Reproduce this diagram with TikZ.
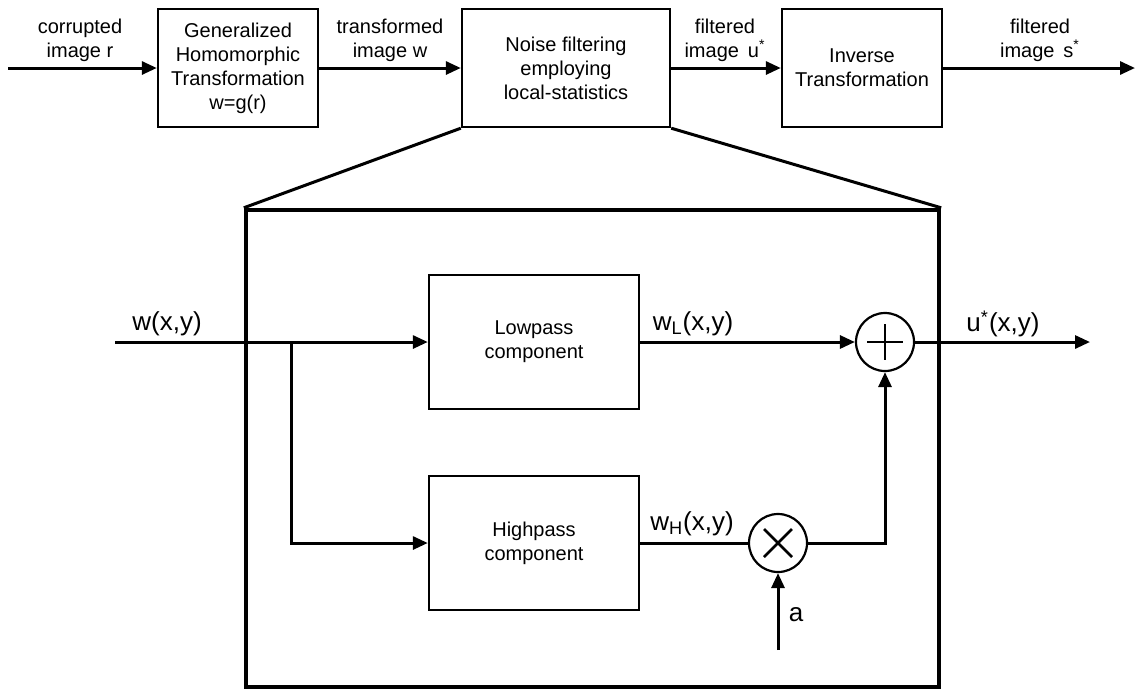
\documentclass[tikz,border=0pt]{standalone}
\usepackage{fontspec}
\setmainfont{Liberation Sans}
\usetikzlibrary{arrows.meta}
\usetikzlibrary{calc}
\usetikzlibrary{positioning}

\begin{document}
\begin{tikzpicture}[x=0.5pt, y=-0.5pt,
        every node/.style={font=\fontsize{10}{12}\selectfont, align=center},
        block/.style={draw, line width=1.2pt, inner sep=0pt},
        topblock/.style={block, minimum height=59pt},
        filterblock/.style={block, minimum width=105pt, minimum height=67pt},
        junction/.style={draw, circle, line width=1.1pt, minimum size=29pt, inner sep=0pt},
        siglabel/.style={font=\fontsize{13}{15}\selectfont, inner sep=0pt},
        sig/.style={line width=1.5pt},
        arr/.style={sig, -{Triangle[length=7.5pt, width=6.5pt]}}]
    \useasboundingbox (0, 0) rectangle (1138, 692);

    % top chain
    \node[topblock, minimum width=80pt] (ght) at (238, 68) {Generalized\\Homomorphic\\Transformation\\w=g(r)};
    \node[topblock, minimum width=104pt] (noise) at (566, 68) {Noise filtering\\employing\\local-statistics};
    \node[topblock, minimum width=80pt] (inv) at (862, 68) {Inverse\\Transformation};
    \coordinate (rin) at (8, 68);
    \coordinate (sout) at (1135, 68);

    \draw[arr] (rin) -- (ght.west);
    \draw[arr] (ght.east) -- (noise.west);
    \draw[arr] (noise.east) -- (inv.west);
    \draw[arr] (inv.east) -- (sout);

    \node (lr) at (80, 40) {corrupted\\image r};
    \node (lw) at (390, 40) {transformed\\image w};
    \node (lu) at (725, 40) {filtered\\image\, u\textsuperscript{*}};
    \node (ls) at (1040, 40) {filtered\\image\, s\textsuperscript{*}};

    % zoomed view of the noise filter
    \node[draw, line width=2.2pt, minimum width=346.5pt, minimum height=238.5pt] (detail) at (592.5, 448.5) {};
    \draw[line width=1.5pt] (noise.south west) -- (detail.north west);
    \draw[line width=1.5pt] (noise.south east) -- (detail.north east);

    \node[filterblock] (low) at (534, 342) {Lowpass\\component};
    \node[filterblock] (high) at (534, 543) {Highpass\\component};
    \node[junction] (sum) at (885, 342) {};
    \node[junction] (mult) at (778, 543) {};
    \draw[line width=1.1pt] ($(sum)+(-18, 0)$) -- ($(sum)+(18, 0)$);
    \draw[line width=1.1pt] ($(sum)+(0, -18)$) -- ($(sum)+(0, 18)$);
    \draw[line width=1.3pt] ($(mult)+(-14, -14)$) -- ($(mult)+(14, 14)$);
    \draw[line width=1.3pt] ($(mult)+(-14, 14)$) -- ($(mult)+(14, -14)$);

    \coordinate (win) at (115, 342);
    \coordinate (branch) at (291, 342);
    \coordinate (uout) at (1090, 342);
    \coordinate (ain) at (778, 650);

    \draw[arr] (win) -- (low.west);
    \draw[arr] (branch) |- (high.west);
    \draw[arr] (low.east) -- (sum.west);
    \draw[arr] (sum.east) -- (uout);
    \draw[sig] (high.east) -- (mult.west);
    \draw[arr] (mult.east) -| (sum.south);
    \draw[arr] (ain) -- (mult.south);

    \node[siglabel] (lwin) at (167, 324) {w(x,y)};
    \node[siglabel] (lwl) at (693, 324) {w\textsubscript{L}(x,y)};
    \node[siglabel] (lwh) at (692, 524) {w\textsubscript{H}(x,y)};
    \node[siglabel] (luout) at (1003, 324) {u\textsuperscript{*}(x,y)};
    \node[siglabel] (la) at (796, 615) {a};
\end{tikzpicture}
\end{document}
